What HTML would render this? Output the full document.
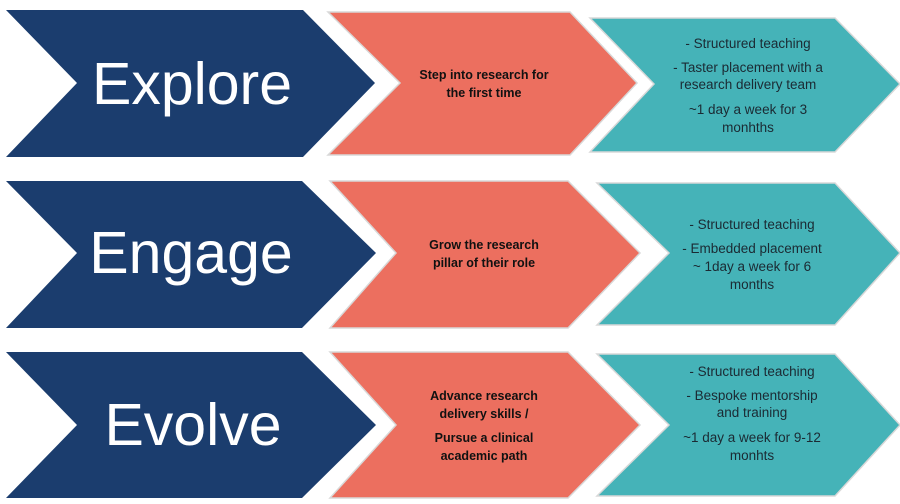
<!DOCTYPE html>
<html><head><meta charset="utf-8"><style>
html,body{margin:0;padding:0;background:#fff;}
svg{display:block;}
.big{font-family:"Liberation Sans",sans-serif;font-size:59px;fill:#fff;text-anchor:middle;}
.s{font-family:"Liberation Sans",sans-serif;font-size:12.5px;font-weight:bold;fill:#111;text-anchor:middle;}
.t{font-family:"Liberation Sans",sans-serif;font-size:13.5px;fill:#1b2a33;text-anchor:middle;}
</style></head><body>
<svg width="900" height="504" viewBox="0 0 900 504" xmlns="http://www.w3.org/2000/svg">
<g stroke="#d8d8d8" stroke-width="1.5">
<!-- row 1 -->
<polygon points="6,10 303,10 375,83 303,157 6,157 77,83" fill="#1b3d6e" stroke="none"/>
<polygon points="328,12 570,12 637,83 570,155 328,155 400,83" fill="#ec6f5f"/>
<polygon points="590,18 835,18 900,84 835,152 590,152 654,84" fill="#45b3b8"/>
<!-- row 2 -->
<polygon points="6,181 302,181 376,253 302,328 6,328 77,253" fill="#1b3d6e" stroke="none"/>
<polygon points="330,181 568,181 640,253 568,328 330,328 396,253" fill="#ec6f5f"/>
<polygon points="597,183 835,183 900,253 835,325 597,325 669,253" fill="#45b3b8"/>
<!-- row 3 -->
<polygon points="6,352 302,352 376,425 302,498 6,498 77,425" fill="#1b3d6e" stroke="none"/>
<polygon points="330,352 568,352 640,425 568,498 330,498 396,425" fill="#ec6f5f"/>
<polygon points="597,354 835,354 900,425 835,496 597,496 669,425" fill="#45b3b8"/>
</g>
<text class="big" x="192" y="104">Explore</text>
<text class="big" x="191" y="273">Engage</text>
<text class="big" x="193" y="445">Evolve</text>

<text class="s" x="484" y="79">Step into research for</text>
<text class="s" x="484" y="97">the first time</text>
<text class="s" x="484" y="249">Grow the research</text>
<text class="s" x="484" y="267">pillar of their role</text>
<text class="s" x="484" y="400">Advance research</text>
<text class="s" x="484" y="418">delivery skills /</text>
<text class="s" x="484" y="442">Pursue a clinical</text>
<text class="s" x="484" y="460">academic path</text>

<text class="t" x="748" y="48">- Structured teaching</text>
<text class="t" x="748" y="72">- Taster placement with a</text>
<text class="t" x="748" y="89">research delivery team</text>
<text class="t" x="748" y="114">~1 day a week for 3</text>
<text class="t" x="748" y="132">monhths</text>

<text class="t" x="752" y="229">- Structured teaching</text>
<text class="t" x="752" y="253">- Embedded placement</text>
<text class="t" x="752" y="271">~ 1day a week for 6</text>
<text class="t" x="752" y="289">months</text>

<text class="t" x="752" y="376">- Structured teaching</text>
<text class="t" x="752" y="400">- Bespoke mentorship</text>
<text class="t" x="752" y="417">and training</text>
<text class="t" x="752" y="442">~1 day a week for 9-12</text>
<text class="t" x="752" y="460">monhts</text>
</svg>
</body></html>
